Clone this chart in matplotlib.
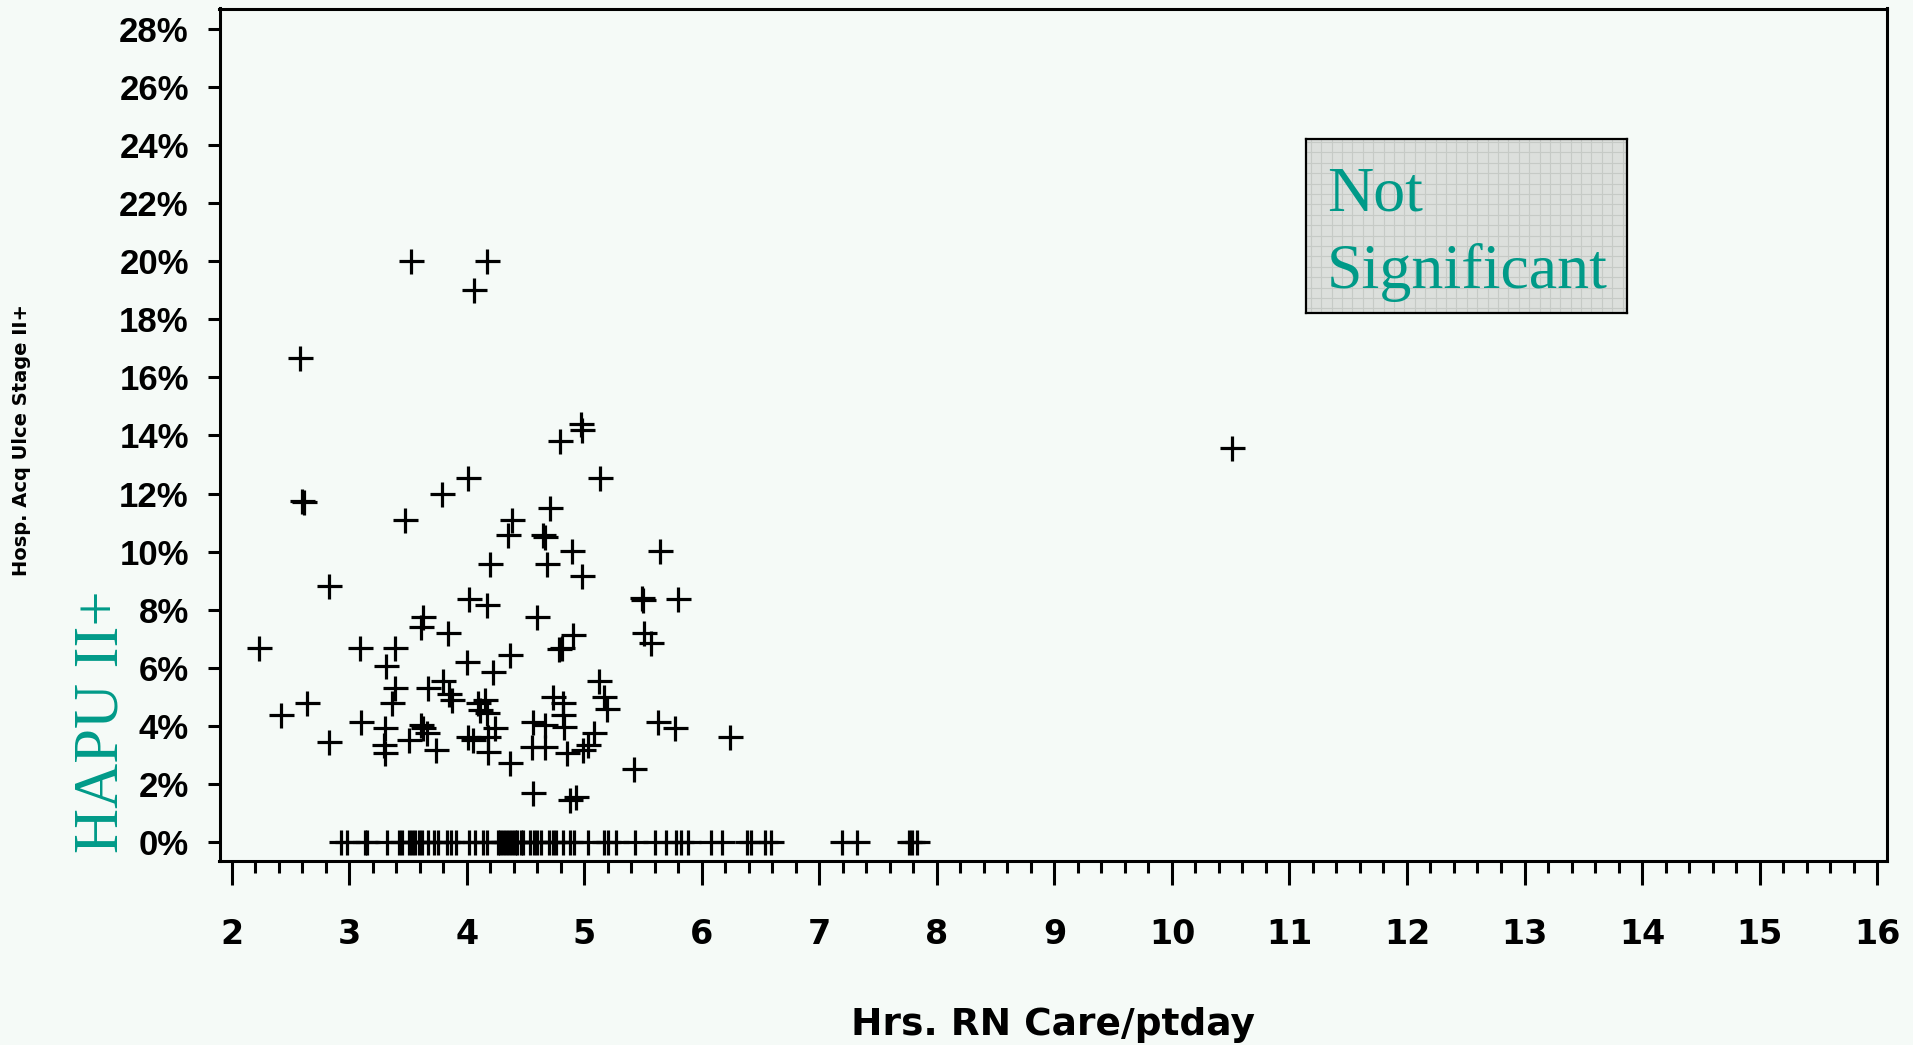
import matplotlib
matplotlib.use("Agg")
import matplotlib.pyplot as plt
import numpy as np
from matplotlib.ticker import MultipleLocator

# hours of RN care per patient day vs. hospital acquired pressure ulcer rate (%)
hrs_nz = [
    3.52, 4.17, 4.06, 2.58, 4.97, 4.98, 4.79, 4.01, 5.13, 2.60, 2.61, 3.79, 3.47, 4.71, 4.38, 4.35, 4.65, 4.66, 4.89, 5.64,
    4.20, 4.68, 4.98, 2.83, 4.02, 4.17, 5.49, 5.50, 5.80, 3.63, 3.61, 3.84, 4.60, 4.90, 4.81, 4.78, 5.51, 5.57,
    2.23, 3.09, 3.39, 3.31, 4.00, 4.37, 4.22, 5.12, 3.39, 3.67, 3.80, 3.85, 3.87, 3.36, 2.64, 2.42, 3.10,
    4.09, 4.15, 4.11, 4.17, 4.73, 4.82, 4.82, 5.17, 5.19, 4.56, 4.66, 4.83, 5.63, 5.77, 6.24,
    3.30, 3.63, 3.66, 3.61, 3.51, 3.29, 2.83, 3.30, 3.74, 4.01, 4.05, 4.18, 4.24, 4.18, 4.55, 4.66, 4.85,
    5.03, 5.08, 4.99, 4.37, 4.56, 4.88, 4.93, 5.42, 10.51,
]
rate_nz = [
    20.0, 20.0, 19.0, 16.66, 14.4, 14.2, 13.81, 12.52, 12.52, 11.75, 11.7, 11.98, 11.09, 11.51, 11.09, 10.57, 10.57, 10.5, 10.02, 10.02,
    9.57, 9.57, 9.17, 8.82, 8.37, 8.16, 8.4, 8.35, 8.37, 7.76, 7.41, 7.19, 7.74, 7.13, 6.67, 6.63, 7.21, 6.86,
    6.67, 6.67, 6.67, 6.06, 6.21, 6.44, 5.86, 5.56, 5.31, 5.31, 5.56, 5.1, 4.9, 4.78, 4.78, 4.37, 4.14,
    4.78, 4.9, 4.55, 4.44, 5.0, 4.78, 4.37, 5.0, 4.57, 4.14, 4.03, 3.97, 4.14, 3.92, 3.63,
    3.92, 3.92, 3.74, 4.03, 3.51, 3.34, 3.45, 3.05, 3.17, 3.63, 3.51, 3.63, 3.92, 3.11, 3.28, 3.28, 3.05,
    3.34, 3.74, 3.17, 2.71, 1.68, 1.45, 1.56, 2.50, 13.58,
]

# units with no ulcers (0%)
hrs_zero = [
    2.93, 2.98, 3.13, 3.15, 3.32, 3.42, 3.45, 3.51, 3.53, 3.56, 3.59, 3.62, 3.67, 3.72, 3.75,
    3.83, 3.86, 3.91, 4.02, 4.07, 4.14, 4.17, 4.26, 4.28, 4.31, 4.33, 4.36, 4.38, 4.41, 4.43,
    4.46, 4.48, 4.54, 4.57, 4.60, 4.63, 4.70, 4.73, 4.76, 4.82, 4.88, 4.91, 5.03, 5.17, 5.20,
    5.27, 5.43, 5.60, 5.69, 5.78, 5.82, 5.88, 6.08, 6.17, 6.38, 6.42, 6.54, 6.59, 7.19, 7.32,
    7.76, 7.79, 7.83,
]
rate_zero = [0.0] * len(hrs_zero)

x_ticks = list(range(2, 17))
x_ticklabels = [str(v) for v in x_ticks]
y_ticks = list(range(0, 29, 2))
y_ticklabels = [f"{v}%" for v in y_ticks]

BG = "#f5faf7"
TEAL = "#009a88"
W, H = 1913, 1045

fig = plt.figure(figsize=(W / 100, H / 100), dpi=100, facecolor=BG)
ax = fig.add_axes([219.5 / W, 1 - 861 / H, (1887 - 219.5) / W, (861 - 8.5) / H], facecolor=BG)

ax.plot(hrs_nz, rate_nz, linestyle="none", marker="+", ms=18, mew=2.3, color="black")
ax.plot(hrs_zero, rate_zero, linestyle="none", marker="+", ms=18, mew=2.3, color="black")

ax.set_xlim(1.894, 16.085)
ax.set_ylim(-0.654, 28.70)
ax.set_xticks(x_ticks)
ax.set_xticklabels(x_ticklabels)
ax.xaxis.set_minor_locator(MultipleLocator(0.2))
ax.set_yticks(y_ticks)
ax.set_yticklabels(y_ticklabels)

ax.tick_params(axis="x", which="major", direction="out", length=17, width=2.2, pad=24, labelsize=24)
ax.tick_params(axis="x", which="minor", direction="out", length=8.6, width=2.2)
ax.tick_params(axis="y", which="major", direction="out", length=8.6, width=2.2, pad=13.5, labelsize=25)
for lbl in ax.get_xticklabels():
    lbl.set_fontfamily("DejaVu Sans")
    lbl.set_fontweight("bold")
for lbl in ax.get_yticklabels():
    lbl.set_fontfamily("Liberation Sans")
    lbl.set_fontweight("bold")
for sp in ax.spines.values():
    sp.set_linewidth(2.2)

fig.text(1053 / W, 1 - 1035 / H, "Hrs. RN Care/ptday", ha="center", va="baseline",
         fontsize=27, fontweight="bold", family="DejaVu Sans")
fig.text(22 / W, 1 - 440 / H, "Hosp. Acq Ulce Stage II+", rotation=90, ha="center", va="center",
         fontsize=14, fontweight="bold", family="DejaVu Sans")
fig.text(102 / W, 1 - 722 / H, "HAPU II+", rotation=90, ha="center", va="center",
         fontsize=45, family="Liberation Serif", color=TEAL)

# grey annotation box
box = fig.add_axes([1305.7 / W, 1 - 313.3 / H, 321 / W, 174.3 / H], facecolor="#dcdfdc")
box.set_xlim(0, 321)
box.set_ylim(0, 174.3)
box.set_xticks(np.arange(5, 321, 10.4))
box.set_yticks(np.arange(5, 174, 10.4))
box.grid(True, color="#c6cac6", linewidth=0.8)
box.tick_params(length=0, labelbottom=False, labelleft=False)
for sp in box.spines.values():
    sp.set_linewidth(1.6)

fig.text(1327 / W, 1 - 210.7 / H, "Not", ha="left", va="baseline",
         fontsize=46, family="Liberation Serif", color=TEAL)
fig.text(1327 / W, 1 - 288.3 / H, "Significant", ha="left", va="baseline",
         fontsize=46, family="Liberation Serif", color=TEAL)

fig.savefig("out.png", dpi=100, facecolor=BG)
